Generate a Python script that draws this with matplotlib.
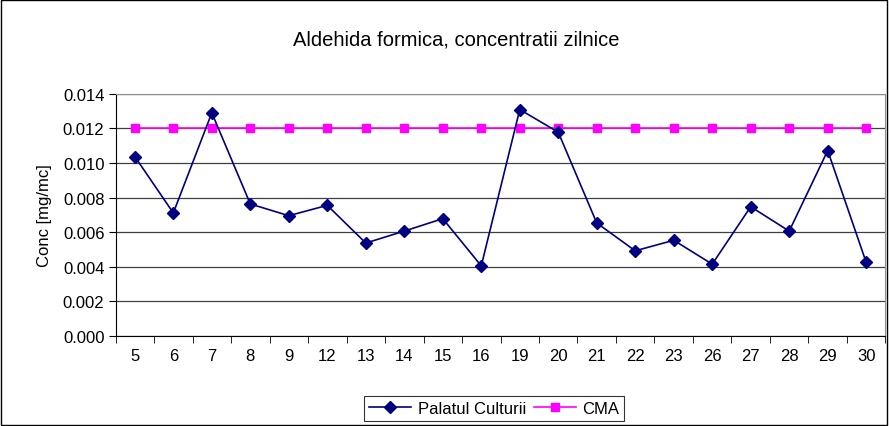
import matplotlib
matplotlib.use('Agg')
import matplotlib.pyplot as plt
import numpy as np

plt.rcParams['font.family'] = ['Liberation Sans', 'DejaVu Sans']

# zilele masurate si concentratiile
zile = ['5', '6', '7', '8', '9', '12', '13', '14', '15', '16',
        '19', '20', '21', '22', '23', '26', '27', '28', '29', '30']
palatul = [0.01037, 0.00711, 0.0129, 0.00763, 0.00695, 0.00755, 0.00537, 0.00606,
           0.00678, 0.00405, 0.01309, 0.01178, 0.00653, 0.00492, 0.00553, 0.00415,
           0.00747, 0.00606, 0.01072, 0.00425]
cma = [0.012] * len(zile)

fig = plt.figure(figsize=(8.89, 4.27), dpi=100)
# chenar exterior
fig.patches.append(plt.Rectangle((0.001, 0.002), 0.997, 0.995, transform=fig.transFigure,
                                 fill=False, edgecolor='black', linewidth=1))
ax = fig.add_axes([0.130, 0.211, 0.866, 0.567])

x = np.arange(len(zile))
ax.plot(x, palatul, color='#000080', marker='D', markersize=6, linewidth=1.2,
        label='Palatul Culturii', zorder=3)
ax.plot(x, cma, color='#FF00FF', marker='s', markersize=6, linewidth=1.2,
        label='CMA', zorder=2)

ax.set_xlim(-0.5, len(zile) - 0.5)
ax.set_ylim(0, 0.014)
ax.set_yticks(np.arange(0, 0.0141, 0.002))
ax.set_yticklabels(['%.3f' % v for v in np.arange(0, 0.0141, 0.002)], fontsize=12)
ax.set_xticks(x)
ax.set_xticklabels(zile, fontsize=12)
ax.set_xticks(np.arange(-0.5, len(zile)), minor=True)
ax.tick_params(axis='x', which='major', length=0, pad=9)
ax.tick_params(axis='x', which='minor', length=5, direction='out', color='black')
ax.tick_params(axis='y', length=5, direction='out', pad=3)

ax.yaxis.grid(True, color='#404040', linewidth=0.9)
ax.set_axisbelow(True)
for s in ['top', 'right']:
    ax.spines[s].set_color('#909090')
for s in ['left', 'bottom']:
    ax.spines[s].set_color('black')

ax.set_ylabel('Conc [mg/mc]', fontsize=12, labelpad=8)
fig.text(0.513, 0.906, 'Aldehida formica, concentratii zilnice', ha='center', va='center',
         fontsize=14.5)

leg = ax.legend(loc='center', bbox_to_anchor=(0.492, -0.298), ncol=2, fontsize=12,
                frameon=True, fancybox=False, edgecolor='black', handlelength=2.5,
                columnspacing=0.5, handletextpad=0.4, borderpad=0.3)
leg.get_frame().set_linewidth(0.8)

fig.savefig('out.png', dpi=100)
